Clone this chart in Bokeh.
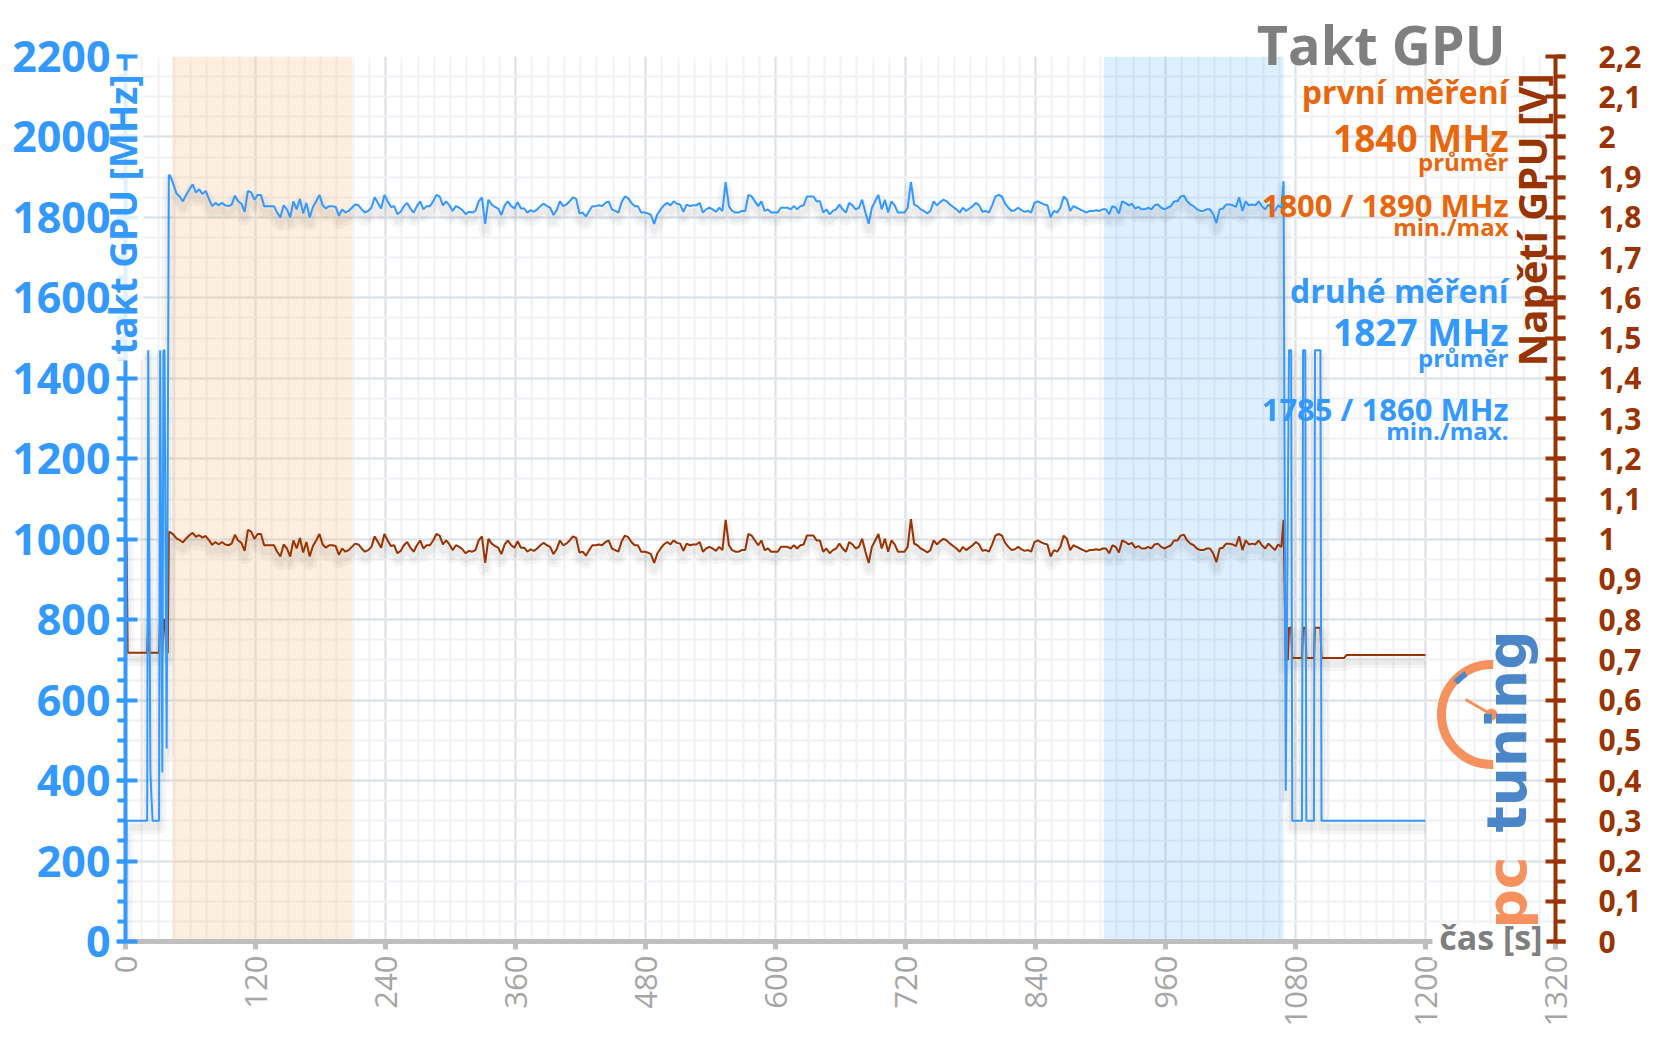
import math
from bokeh.plotting import figure
from bokeh.models import (Range1d, LinearAxis, SingleIntervalTicker, BoxAnnotation,
                          CustomJSTickFormatter, ColumnDataSource)
from bokeh.core.properties import value
from bokeh.transform import dodge
from bokeh.embed import file_html
from bokeh.resources import INLINE

# ---------------- data ----------------
# GPU clock [MHz]
clock_head_t = [0, 1, 20, 21, 23, 25, 31, 32, 34, 35, 36, 38, 40]
clock_head = [0, 300, 300, 1470, 417, 300, 300, 1470, 420, 1470, 1470, 480, 1905]

steady_start, steady_step = 41, 3   # sampling of the steady load part [s]
clock_steady = [
    1905, 1884, 1860, 1852, 1840, 1856, 1870, 1882, 1862, 1870,
    1858, 1866, 1846, 1828, 1836, 1830, 1836, 1830, 1828, 1832,
    1854, 1840, 1834, 1814, 1866, 1862, 1844, 1856, 1856, 1828,
    1828, 1828, 1828, 1812, 1800, 1830, 1820, 1800, 1840, 1820,
    1846, 1810, 1836, 1800, 1826, 1840, 1856, 1830, 1822, 1828,
    1828, 1826, 1804, 1820, 1812, 1816, 1824, 1832, 1830, 1820,
    1812, 1816, 1824, 1850, 1836, 1822, 1856, 1840, 1826, 1828,
    1808, 1814, 1828, 1836, 1822, 1812, 1828, 1840, 1820, 1828,
    1828, 1840, 1856, 1852, 1830, 1840, 1830, 1816, 1828, 1824,
    1818, 1808, 1814, 1812, 1816, 1840, 1850, 1784, 1844, 1832,
    1826, 1822, 1806, 1830, 1840, 1828, 1822, 1838, 1822, 1822,
    1812, 1818, 1814, 1820, 1828, 1834, 1828, 1824, 1806, 1818,
    1840, 1828, 1832, 1840, 1850, 1846, 1810, 1812, 1802, 1816,
    1828, 1828, 1830, 1828, 1836, 1840, 1820, 1816, 1812, 1838,
    1852, 1848, 1836, 1828, 1828, 1812, 1812, 1810, 1806, 1784,
    1808, 1820, 1830, 1836, 1830, 1840, 1834, 1832, 1814, 1832,
    1828, 1830, 1830, 1836, 1812, 1820, 1824, 1820, 1814, 1824,
    1816, 1888, 1828, 1816, 1812, 1812, 1816, 1816, 1856, 1852,
    1840, 1828, 1840, 1816, 1820, 1812, 1812, 1812, 1824, 1824,
    1824, 1820, 1828, 1820, 1828, 1830, 1852, 1852, 1852, 1840,
    1840, 1812, 1820, 1808, 1816, 1820, 1832, 1820, 1812, 1836,
    1830, 1820, 1824, 1844, 1812, 1784, 1824, 1840, 1856, 1820,
    1844, 1812, 1840, 1830, 1812, 1812, 1812, 1824, 1888, 1832,
    1828, 1820, 1816, 1810, 1816, 1840, 1830, 1838, 1844, 1840,
    1832, 1826, 1820, 1812, 1824, 1816, 1822, 1828, 1836, 1830,
    1814, 1816, 1812, 1830, 1852, 1856, 1852, 1834, 1824, 1816,
    1818, 1824, 1818, 1814, 1816, 1812, 1836, 1840, 1836, 1832,
    1830, 1800, 1816, 1812, 1824, 1852, 1844, 1816, 1828, 1824,
    1820, 1816, 1812, 1816, 1816, 1818, 1816, 1820, 1820, 1808,
    1828, 1824, 1810, 1840, 1836, 1830, 1834, 1822, 1826, 1820,
    1820, 1824, 1820, 1830, 1832, 1824, 1820, 1824, 1828, 1840,
    1840, 1852, 1854, 1840, 1832, 1828, 1820, 1816, 1816, 1820,
    1820, 1808, 1786, 1820, 1822, 1832, 1832, 1830, 1826, 1850,
    1816, 1840, 1830, 1832, 1830, 1840, 1828, 1820, 1832, 1824,
    1816, 1830, 1824,
]
clock_tail_t = [1069, 1071, 1074, 1076, 1077, 1086, 1087, 1089, 1090, 1097, 1098, 1103, 1104, 1200]
clock_tail = [1890, 375, 1470, 1470, 300, 300, 1470, 1470, 300, 300, 1470, 1470, 300, 300]

# GPU voltage [V]
volt_head_t = [0, 1, 2, 20, 21, 22, 31, 32, 33, 34, 35, 36, 38, 39, 40]
volt_head = [1.0, 1.0, 0.718, 0.718, 0.80, 0.718, 0.718, 0.80, 0.80, 0.718, 0.80, 0.80, 0.718, 0.718, 1.018]
volt_steady = [
    1.018, 1.012, 1.002, 0.998, 0.992, 1.002, 1.010, 1.016, 1.006, 1.010,
    1.004, 1.008, 0.998, 0.986, 0.993, 0.987, 0.993, 0.987, 0.985, 0.989,
    1.011, 0.997, 0.991, 0.971, 1.023, 1.019, 1.001, 1.013, 1.013, 0.985,
    0.985, 0.985, 0.985, 0.969, 0.957, 0.987, 0.977, 0.957, 0.997, 0.977,
    1.003, 0.967, 0.993, 0.957, 0.983, 0.997, 1.013, 0.987, 0.979, 0.985,
    0.985, 0.983, 0.961, 0.977, 0.969, 0.973, 0.981, 0.989, 0.987, 0.977,
    0.969, 0.973, 0.981, 1.007, 0.993, 0.979, 1.013, 0.997, 0.983, 0.985,
    0.965, 0.971, 0.985, 0.993, 0.979, 0.969, 0.985, 0.997, 0.977, 0.985,
    0.985, 0.997, 1.013, 1.009, 0.987, 0.997, 0.987, 0.973, 0.985, 0.981,
    0.975, 0.965, 0.971, 0.969, 0.973, 0.997, 1.007, 0.941, 1.001, 0.989,
    0.983, 0.979, 0.963, 0.987, 0.997, 0.985, 0.979, 0.995, 0.979, 0.979,
    0.969, 0.975, 0.971, 0.977, 0.985, 0.991, 0.985, 0.981, 0.963, 0.975,
    0.997, 0.985, 0.989, 0.997, 1.007, 1.003, 0.967, 0.969, 0.959, 0.973,
    0.985, 0.985, 0.987, 0.985, 0.993, 0.997, 0.977, 0.973, 0.969, 0.995,
    1.009, 1.005, 0.993, 0.985, 0.985, 0.969, 0.969, 0.967, 0.963, 0.941,
    0.965, 0.977, 0.987, 0.993, 0.987, 0.997, 0.991, 0.989, 0.971, 0.989,
    0.985, 0.987, 0.987, 0.993, 0.969, 0.977, 0.981, 0.977, 0.971, 0.981,
    0.973, 1.048, 0.985, 0.973, 0.969, 0.969, 0.973, 0.973, 1.013, 1.009,
    0.997, 0.985, 0.997, 0.973, 0.977, 0.969, 0.969, 0.969, 0.981, 0.981,
    0.981, 0.977, 0.985, 0.977, 0.985, 0.987, 1.009, 1.009, 1.009, 0.997,
    0.997, 0.969, 0.977, 0.965, 0.973, 0.977, 0.989, 0.977, 0.969, 0.993,
    0.987, 0.977, 0.981, 1.001, 0.969, 0.941, 0.981, 0.997, 1.013, 0.977,
    1.001, 0.969, 0.997, 0.987, 0.969, 0.969, 0.969, 0.981, 1.050, 0.989,
    0.985, 0.977, 0.973, 0.967, 0.973, 0.997, 0.987, 0.995, 1.001, 0.997,
    0.989, 0.983, 0.977, 0.969, 0.981, 0.973, 0.979, 0.985, 0.993, 0.987,
    0.971, 0.973, 0.969, 0.987, 1.009, 1.013, 1.009, 0.991, 0.981, 0.973,
    0.975, 0.981, 0.975, 0.971, 0.973, 0.969, 0.993, 0.997, 0.993, 0.989,
    0.987, 0.957, 0.973, 0.969, 0.981, 1.009, 1.001, 0.973, 0.985, 0.981,
    0.977, 0.973, 0.969, 0.973, 0.973, 0.975, 0.973, 0.977, 0.977, 0.965,
    0.985, 0.981, 0.967, 0.997, 0.993, 0.987, 0.991, 0.979, 0.983, 0.977,
    0.977, 0.981, 0.977, 0.987, 0.989, 0.981, 0.977, 0.981, 0.985, 0.997,
    0.997, 1.009, 1.011, 0.997, 0.989, 0.985, 0.977, 0.973, 0.973, 0.977,
    0.977, 0.965, 0.943, 0.977, 0.979, 0.989, 0.989, 0.987, 0.983, 1.007,
    0.973, 0.997, 0.987, 0.989, 0.987, 0.997, 0.985, 0.977, 0.989, 0.981,
    0.973, 0.987, 0.981,
]
volt_tail_t = [1069, 1071, 1072, 1073, 1074, 1076, 1077, 1086, 1087, 1089, 1090,
               1097, 1098, 1103, 1104, 1125, 1127, 1200]
volt_tail = [1.048, 0.695, 0.705, 0.700, 0.780, 0.780, 0.705, 0.705, 0.780, 0.780, 0.705,
             0.705, 0.780, 0.780, 0.705, 0.705, 0.712, 0.712]

# highlighted measurement windows [s]
band_start = [43, 903]
band_end = [209, 1069]

x_ticks_step = 120
y_ticks_step = 200
v_ticks_step = 0.1

# ---------------- assemble ----------------
steady_t = [steady_start + steady_step * i for i in range(len(clock_steady))]
clock_src = ColumnDataSource(dict(t=clock_head_t + steady_t + clock_tail_t,
                                  v=clock_head + clock_steady + clock_tail))
volt_src = ColumnDataSource(dict(t=volt_head_t + steady_t + volt_tail_t,
                                 v=volt_head + volt_steady + volt_tail))

BLUE = "#3399ff"
BROWN = "#993300"
ORANGE = "#e8660c"
GREY_T = "#7f7f7f"
FONT = "Open Sans"

W, H = 1656, 1044
L, R, T, B = 125, 101, 56, 103
X_MAX, Y_MAX, V_MAX = 1320, 2200, 2.2

p = figure(width=W, height=H, x_range=Range1d(0, X_MAX), y_range=Range1d(0, Y_MAX),
           output_backend="svg", toolbar_location=None,
           min_border_left=L, min_border_right=R, min_border_top=T, min_border_bottom=B)
p.outline_line_color = None
p.background_fill_color = "white"
p.border_fill_color = "white"
p.extra_y_ranges = {"volt": Range1d(0, V_MAX)}


def dx(X):
    return (X - L) * X_MAX / (W - L - R)


def dy(Y):
    return (H - B - Y) * Y_MAX / (H - T - B)


# tickers / grid
xt = SingleIntervalTicker(interval=x_ticks_step, num_minor_ticks=8)
yt = SingleIntervalTicker(interval=y_ticks_step, num_minor_ticks=4)
p.xaxis.ticker = xt
p.xgrid.ticker = xt
p.yaxis.ticker = yt
p.ygrid.ticker = yt
for g in (p.xgrid, p.ygrid):
    g.grid_line_color = "#dde1e8"
    g.grid_line_width = 2
    g.minor_grid_line_color = "#eff1f4"
    g.minor_grid_line_width = 2

# left axis
ya = p.yaxis[0]
ya.axis_line_color = BLUE
ya.axis_line_width = 4
ya.major_tick_line_color = BLUE
ya.major_tick_line_width = 4
ya.major_tick_in = 12
ya.major_tick_out = 9
ya.minor_tick_line_color = BLUE
ya.minor_tick_line_width = 4
ya.minor_tick_in = 0
ya.minor_tick_out = 8
ya.major_label_text_color = BLUE
ya.major_label_text_font = FONT
ya.major_label_text_font_style = "bold"
ya.major_label_text_font_size = "43px"
ya.major_label_standoff = 6

# bottom axis
xa = p.xaxis[0]
xa.axis_line_color = "#bfbfbf"
xa.axis_line_width = 5
xa.major_tick_line_color = "#bfbfbf"
xa.major_tick_line_width = 5
xa.major_tick_in = 0
xa.major_tick_out = 8
xa.minor_tick_line_color = None
xa.major_label_orientation = math.pi / 2
xa.major_label_text_color = "#a6a6a6"
xa.major_label_text_font = FONT
xa.major_label_text_font_size = "31px"
xa.major_label_standoff = 6

# right axis (voltage)
va = LinearAxis(y_range_name="volt",
                ticker=SingleIntervalTicker(interval=v_ticks_step, num_minor_ticks=2),
                formatter=CustomJSTickFormatter(
                    code="return (Math.round(tick*10)/10).toString().replace('.', ',');"))
va.axis_line_color = BROWN
va.axis_line_width = 4
va.major_tick_line_color = BROWN
va.major_tick_line_width = 4
va.major_tick_in = 10
va.major_tick_out = 10
va.minor_tick_line_color = BROWN
va.minor_tick_line_width = 4
va.minor_tick_in = 0
va.minor_tick_out = 10
va.major_label_text_color = BROWN
va.major_label_text_font = FONT
va.major_label_text_font_style = "bold"
va.major_label_text_font_size = "30px"
va.major_label_standoff = 33
p.add_layout(va, "right")

# measurement windows
band_colors = [("#f9c896", 0.3), ("#3399ff", 0.16)]
for s, e, (c, a) in zip(band_start, band_end, band_colors):
    p.add_layout(BoxAnnotation(left=s, right=e, fill_color=c, fill_alpha=a,
                               line_color=None, level="underlay"))

# soft drop shadows under the series
for w, a in ((14, 0.035), (7, 0.04)):
    p.line(x="t", y=dodge("v", -16), source=clock_src, line_color="black",
           line_alpha=a, line_width=w, line_join="round")
    p.line(x="t", y=dodge("v", -0.016), source=volt_src, y_range_name="volt",
           line_color="black", line_alpha=a, line_width=w, line_join="round")

# series
p.line(x="t", y="v", source=volt_src, y_range_name="volt", line_color=BROWN, line_width=2)
p.line(x="t", y="v", source=clock_src, line_color=BLUE, line_width=2)

BASE_SHIFT = 0.45   # compensates the renderer's baseline placement (in em)


def add_text(text, X, Y, size, color, align="right", angle=0, style="bold", font=FONT):
    if angle == 0:
        Y = Y - BASE_SHIFT * size
    else:
        X = X - BASE_SHIFT * size
    p.text(x=[dx(X)], y=[dy(Y)], text=[text], text_font=value(font),
           text_font_size=value(f"{size}px"), text_font_style=style, text_color=color,
           text_align=align, text_baseline="alphabetic", angle=math.radians(angle),
           level="overlay")


# white glow behind axis titles
p.quad(left=[dx(1432)], right=[dx(1546)], top=[dy(924)], bottom=[dy(960)],
       fill_color="white", line_color=None, level="overlay")
p.quad(left=[dx(112)], right=[dx(143)], top=[dy(70)], bottom=[dy(360)],
       fill_color="white", fill_alpha=0.85, line_color=None, level="overlay")

# axis titles
add_text("takt GPU [MHz]", 139, 74, 37, BLUE, angle=90)
add_text("Napětí GPU [V]", 1549, 73, 40, BROWN, angle=90)
add_text("čas [s]", 1542, 952, 34, GREY_T)

# title and summary
RX = 1508
add_text("Takt GPU", 1505, 68, 54, GREY_T)
add_text("první měření", RX, 105, 32, ORANGE)
add_text("1840 MHz", RX, 154, 37, ORANGE)
add_text("průměr", RX, 172, 24, ORANGE)
add_text("1800 / 1890 MHz", RX, 218, 31, ORANGE)
add_text("min./max", RX, 237, 24, ORANGE)
add_text("druhé měření", RX, 304, 32, BLUE)
add_text("1827 MHz", RX, 348, 37, BLUE)
add_text("průměr", RX, 368, 24, BLUE)
add_text("1785 / 1860 MHz", RX, 422, 31, BLUE)
add_text("min./max.", RX, 441, 24, BLUE)

# pctuning logo
LOGO_O = "#f5915d"
LOGO_B = "#4a86c8"
cx, cy = dx(1491), dy(714)
p.arc(x=[cx], y=[cy], radius=50, radius_units="screen",
      start_angle=math.radians(88), end_angle=math.radians(272), direction="anticlock",
      line_color=LOGO_O, line_width=9)
p.arc(x=[cx], y=[cy], radius=48, radius_units="screen",
      start_angle=math.radians(122), end_angle=math.radians(138), direction="anticlock",
      line_color=LOGO_B, line_width=6)
p.ray(x=[cx], y=[cy], length=30, length_units="screen", angle=math.radians(150),
      line_color=LOGO_O, line_width=3)
p.scatter(x=[cx], y=[cy], size=11, color=LOGO_O)
add_text("pc", 1531, 928, 55, LOGO_O, align="left", angle=90, font="DejaVu Sans")
add_text("tuning", 1531, 630, 55, LOGO_B, align="right", angle=90, font="DejaVu Sans")

open("out.html", "w").write(file_html(p, INLINE))
